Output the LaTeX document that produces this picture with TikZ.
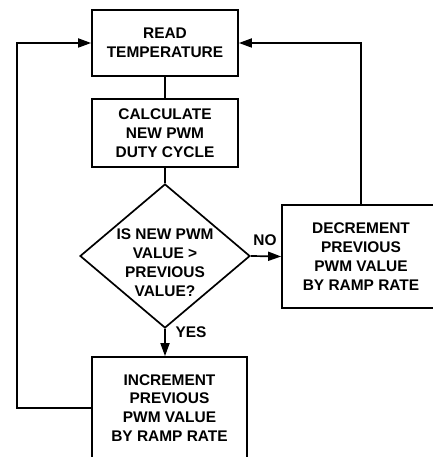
\documentclass[tikz,border=0pt]{standalone}
\usepackage{fontspec}
\setmainfont{Liberation Sans}
\usetikzlibrary{shapes.geometric,arrows.meta}
\begin{document}
\begin{tikzpicture}[x=1bp,y=-1bp,
    txt/.style={align=center,inner sep=0pt,font=\bfseries\fontsize{15.5}{19}\selectfont},
    box/.style={txt,draw,line width=1.7bp},
    decision/.style={draw,diamond,line width=1.7bp,inner sep=0pt},
    flow/.style={line width=1.7bp},
    arr/.style={flow,-{Triangle[length=13bp,width=9bp]}}]
        \useasboundingbox(0,0)rectangle(432,457);
        \node[box,minimum width=146bp,minimum height=66bp](read)at(165,43){READ\\TEMPERATURE};
        \node[box,minimum width=146bp,minimum height=68bp](calc)at(165,133){CALCULATE\\NEW PWM\\DUTY CYCLE};
        \node[decision,minimum width=170bp,minimum height=144bp](check)at(165,256){};
        \node[txt](checktext)at(165,263){IS NEW PWM\\VALUE >\\PREVIOUS\\VALUE?};
        \node[box,minimum width=158bp,minimum height=103bp](dec)at(361,256.5){DECREMENT\\PREVIOUS\\PWM VALUE\\BY RAMP RATE};
        \node[box,minimum width=155bp,minimum height=102bp](inc)at(169.5,408){INCREMENT\\PREVIOUS\\PWM VALUE\\BY RAMP RATE};
        \node[txt](no)at(265,240){NO};
        \node[txt](yes)at(191,332){YES};
        \coordinate(loopx)at(17,0);
        \draw[flow](read)--(calc);
        \draw[flow](calc)--(check);
        \draw[arr](check.east)--(dec.west);
        \draw[arr](check.south)--(check.south|-inc.north);
        \draw[arr](dec.north)|-(read.east);
        \draw[arr](inc.west)--(inc.west-|loopx)|-(read.west);
    \end{tikzpicture}
\end{document}
